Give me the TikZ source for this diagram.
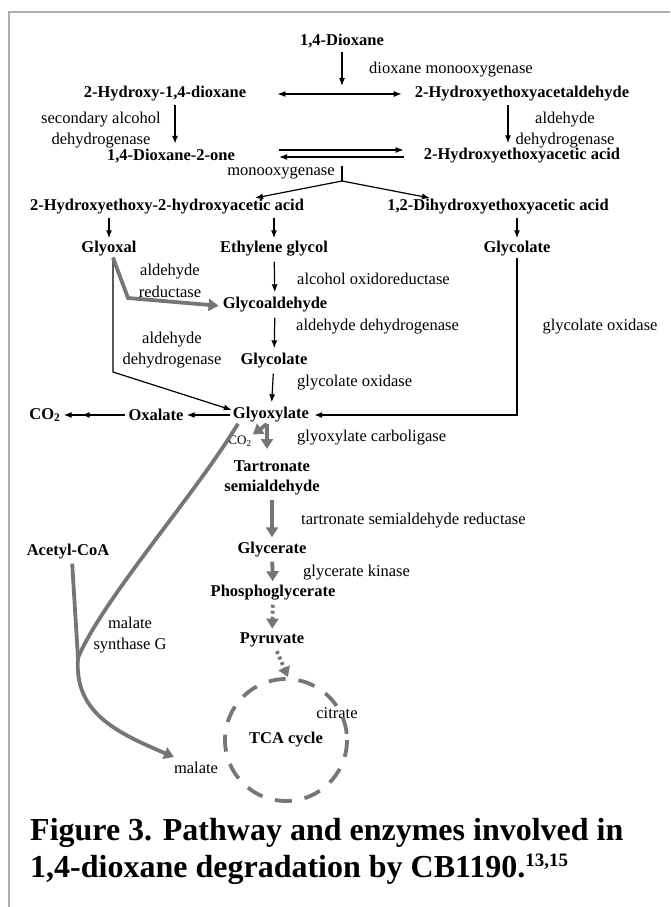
\documentclass[tikz,border=0pt]{standalone}
\usepackage{fontspec}
\setmainfont{Liberation Serif}
\usetikzlibrary{arrows.meta}
\definecolor{pgray}{RGB}{118,118,118}
\definecolor{fgray}{RGB}{178,175,175}
\begin{document}
\begin{tikzpicture}[x=1pt,y=-1pt,>={Latex[length=8pt,width=6pt]},
    cpd/.style={font=\fontsize{16.5}{20.5}\selectfont\bfseries, inner sep=1pt, align=center},
    enz/.style={font=\fontsize{16.5}{21.5}\selectfont, inner sep=1pt, align=center},
    blk/.style={line width=1.2pt},
    gry/.style={-{Triangle[length=10pt,width=12pt]}, line width=3.8pt, draw=pgray},
    gdot/.style={gry, dash pattern=on 3pt off 3pt}]
  \useasboundingbox (0,0) rectangle (670,907);
  \draw[fgray, line width=2.5pt] (670,12) -- (9,12) -- (9,907);
  % compounds
  \node[cpd] (dx) at (342,41) {1,4-Dioxane};
  \node[cpd] (hd) at (165,94) {2-Hydroxy-1,4-dioxane};
  \node[cpd] (hea) at (522,94) {2-Hydroxyethoxyacetaldehyde};
  \node[cpd] (dxo) at (171,156) {1,4-Dioxane-2-one};
  \node[cpd] (hac) at (522,156) {2-Hydroxyethoxyacetic acid};
  \node[cpd] (hhac) at (167,207) {2-Hydroxyethoxy-2-hydroxyacetic acid};
  \node[cpd] (dhac) at (498,207) {1,2-Dihydroxyethoxyacetic acid};
  \node[cpd] (gyx) at (109,249) {Glyoxal};
  \node[cpd] (eg) at (274,249) {Ethylene glycol};
  \node[cpd] (glcr) at (517,249) {Glycolate};
  \node[cpd] (gald) at (275,305) {Glycoaldehyde};
  \node[cpd] (glc) at (274,361) {Glycolate};
  \node[cpd] (glx) at (271,415) {Glyoxylate};
  \node[cpd] (oxa) at (156,415) {Oxalate};
  \node[cpd] (co2a) at (45,415) {CO\textsubscript{2}};
  \node[cpd] (tsa) at (272,478) {Tartronate\\semialdehyde};
  \node[cpd] (gly) at (272,550) {Glycerate};
  \node[cpd] (pg) at (273,593) {Phosphoglycerate};
  \node[cpd] (pyr) at (272,640) {Pyruvate};
  \node[cpd] (acoa) at (68,552) {Acetyl-CoA};
  \node[cpd] (tca) at (286,740) {TCA cycle};
  % enzymes
  \node[enz, anchor=west] (e1) at (368,70) {dioxane monooxygenase};
  \node[enz] (e2) at (101,130) {secondary alcohol\\dehydrogenase};
  \node[enz] (e3) at (565,130) {aldehyde\\dehydrogenase};
  \node[enz] (e4) at (281,173) {monooxygenase};
  \node[enz] (e5) at (170,281) {aldehyde\\reductase};
  \node[enz, anchor=west] (e6) at (296,279) {alcohol oxidoreductase};
  \node[enz, anchor=west] (e7) at (295,327) {aldehyde dehydrogenase};
  \node[enz] (e8) at (172,350) {aldehyde\\dehydrogenase};
  \node[enz] (e9) at (600,327) {glycolate oxidase};
  \node[enz, anchor=west] (e10) at (296,383) {glycolate oxidase};
  \node[enz, anchor=west] (e11) at (296,438) {glyoxylate carboligase};
  \node[enz, font=\fontsize{13}{15}\selectfont] (co2b) at (240,441) {CO\textsubscript{2}};
  \node[enz, anchor=west] (e12) at (300,521) {tartronate semialdehyde reductase};
  \node[enz, anchor=west] (e13) at (302,573) {glycerate kinase};
  \node[enz] (e14) at (130,635) {malate\\synthase G};
  \node[enz] (cit) at (337,713) {citrate};
  \node[enz] (mal) at (196,768) {malate};
  % black steps
  \coordinate (dxm) at (342,86);
  \coordinate (mtop) at (342,166);
  \coordinate (msplit) at (342,181);
  \coordinate (hhin) at (255,198);
  \coordinate (dhin) at (430,198);
  \coordinate (gbend) at (113,372);
  \draw[blk,->, shorten <=3pt] (dx) -- (dxm);
  \draw[blk,<->, shorten <=30pt, shorten >=12pt] (hd) -- (hea);
  \draw[blk,->, shorten <=2pt, shorten >=4pt] ([xshift=10pt]hd.south) -- ([xshift=4pt]dxo.north);
  \draw[blk,->, shorten <=2pt, shorten >=4pt] ([xshift=-14pt]hea.south) -- ([xshift=-14pt]hac.north);
  \draw[blk,->, shorten <=43pt, shorten >=19pt] ([yshift=6pt]dxo.east) -- ([yshift=6pt]hac.west);
  \draw[blk,->, shorten <=19pt, shorten >=43pt] ([yshift=-1pt]hac.west) -- ([yshift=-1pt]dxo.east);
  \draw[blk] (mtop) -- (msplit);
  \path[blk,->] (msplit) edge (hhin)
    (msplit) edge (dhin);
  \path[blk,->, shorten <=2pt, shorten >=2pt] (gyx.north |- hhac.south) edge (gyx.north)
    (eg.north |- hhac.south) edge (eg.north)
    (glcr.north |- dhac.south) edge (glcr.north);
  \path[blk,->, shorten <=4pt, shorten >=4pt] (eg) edge (gald)
    (gald) edge (glc)
    (glc) edge (glx);
  \draw[blk,->] (gyx.south -| gbend) -- (gbend) -- ([yshift=5pt]glx.west);
  \draw[blk,->, shorten >=4pt] (glcr) |- (glx);
  \draw[blk,->, shorten <=2pt, shorten >=2pt] (glx) -- (oxa);
  \draw[blk,-{Latex[length=8pt,width=6pt,sep=10pt]Latex[length=8pt,width=6pt]}, shorten <=2pt, shorten >=2pt] (oxa) -- (co2a);
  % grey steps
  \coordinate (gybend) at (128,298);
  \coordinate (gsplit) at (267,424);
  \coordinate (gdown) at (267,449);
  \coordinate (tcatop) at (288,677);
  \coordinate (merge) at (78,658);
  \coordinate (malin) at (174,757);
  \draw[gry, shorten >=3pt] (gyx.south -| gbend) -- (gybend) -- ([yshift=-1pt]gald.west);
  \draw[gry] (gsplit) -- (gdown);
  \draw[gry] (gsplit) -- (co2b.north east);
  \draw[gry, shorten <=3pt, shorten >=4pt] (tsa) -- (gly);
  \draw[gry, shorten <=3pt, shorten >=3pt] (gly) -- (pg);
  \draw[gdot, shorten <=3pt, shorten >=3pt] (pg) -- (pyr);
  \draw[gdot, shorten <=3pt] (pyr) -- (tcatop);
  \draw[pgray, line width=3.8pt, dash pattern=on 17pt off 13pt] (tca) circle (61);
  \draw[gry, -, shorten <=3pt] ([xshift=4pt]acoa.south) -- (merge);
  \draw[gry] ([xshift=-33pt]glx.south) .. controls (195,495) and (102,600) .. (merge)
    .. controls (74,712) and (115,732) .. (malin);
  % caption
  \node[anchor=base west, inner sep=0, font=\fontsize{32}{37}\selectfont\bfseries] (cap1) at (30,840) {Figure 3. Pathway and enzymes involved in};
  \node[anchor=base west, inner sep=0, font=\fontsize{32}{37}\selectfont\bfseries] (cap2) at (30,877) {1,4-dioxane degradation by CB1190.\raisebox{11pt}{\fontsize{19}{20}\selectfont 13,15}};
\end{tikzpicture}
\end{document}
